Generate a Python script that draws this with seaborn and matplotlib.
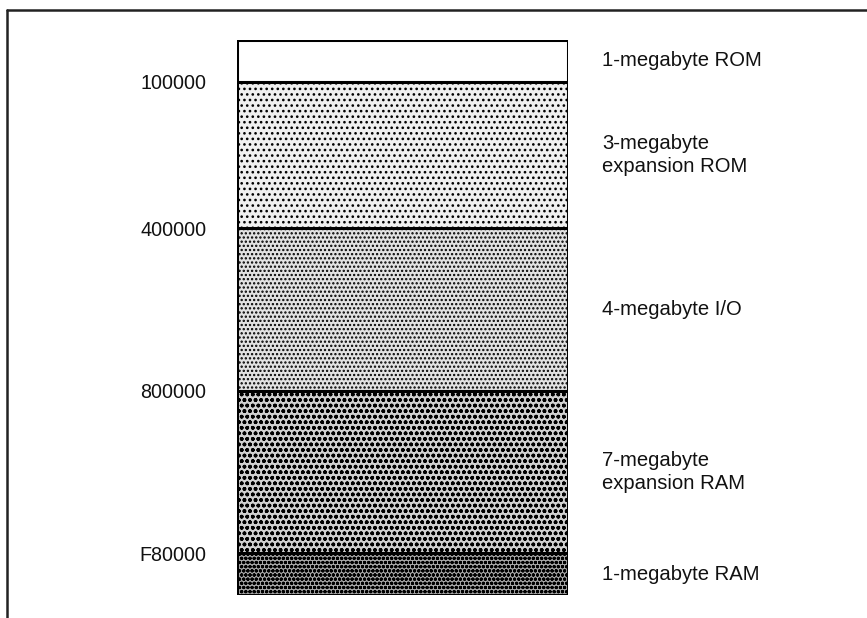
import numpy as np
import matplotlib
matplotlib.use("Agg")
import matplotlib.pyplot as plt
from matplotlib.lines import Line2D
import seaborn as sns

# Memory map segments, top (address 000000) to bottom
segments = [
    "1-megabyte ROM",
    "3-megabyte\nexpansion ROM",
    "4-megabyte I/O",
    "7-megabyte\nexpansion RAM",
    "1-megabyte RAM",
]
# drawn height of each block (the figure is not to scale)
block_heights = [1.0, 3.48, 3.88, 3.86, 1.0]
# start addresses of the blocks below the first one
boundary_labels = ["100000", "400000", "800000", "F80000"]

# halftone look for each block
fills = ["white", "#f0f0f0", "#e2e2e2", "#d0d0d0", "#a8a8a8"]
hatches = [None, "...", "....", "ooo", "oooo"]

sns.set_theme(style="white")
plt.rcParams["font.family"] = ["Liberation Sans", "DejaVu Sans"]
plt.rcParams["hatch.linewidth"] = 1.1
plt.rcParams["hatch.color"] = "black"

fig = plt.figure(figsize=(8.67, 6.18), dpi=100)
W, H = 867, 618
ax = fig.add_axes([237 / W, 1 - 595 / H, (568 - 237) / W, (595 - 40) / H])

tops = np.cumsum(block_heights)
total = tops[-1]

# draw cumulative bars from the longest down, so each block covers the previous
for i in range(len(segments) - 1, -1, -1):
    sns.barplot(
        x=["map"], y=[tops[i]], width=1, color=fills[i], saturation=1,
        hatch=hatches[i], edgecolor="black", linewidth=2.2, ax=ax,
    )

ax.set_xlim(-0.5, 0.5)
ax.set_ylim(total, 0)
ax.set_xticks([])
ax.set_xlabel("")
ax.set_ylabel("")
ax.set_yticks(tops[:-1])
ax.set_yticklabels(boundary_labels, fontsize=14.2, color="#111111")
ax.tick_params(axis="y", length=0, pad=22)
for s in ax.spines.values():
    s.set_visible(False)

# block names on the right, at each block's middle
mids = tops - np.array(block_heights) / 2
x_lab = 1 + (602 - 568) / (568 - 237)
for name, m in zip(segments, mids):
    ax.text(x_lab, m, name, transform=ax.get_yaxis_transform(),
            ha="left", va="center", fontsize=14.6, linespacing=1.3,
            color="#111111")

# frame of the scanned figure (top and left edges)
fig.add_artist(Line2D([7 / W, 1], [1 - 10 / H, 1 - 10 / H],
                      transform=fig.transFigure, color="#222222", lw=1.8))
fig.add_artist(Line2D([7 / W, 7 / W], [1 - 10 / H, 0],
                      transform=fig.transFigure, color="#222222", lw=1.8))

fig.savefig("out.png", dpi=100, facecolor="white")
